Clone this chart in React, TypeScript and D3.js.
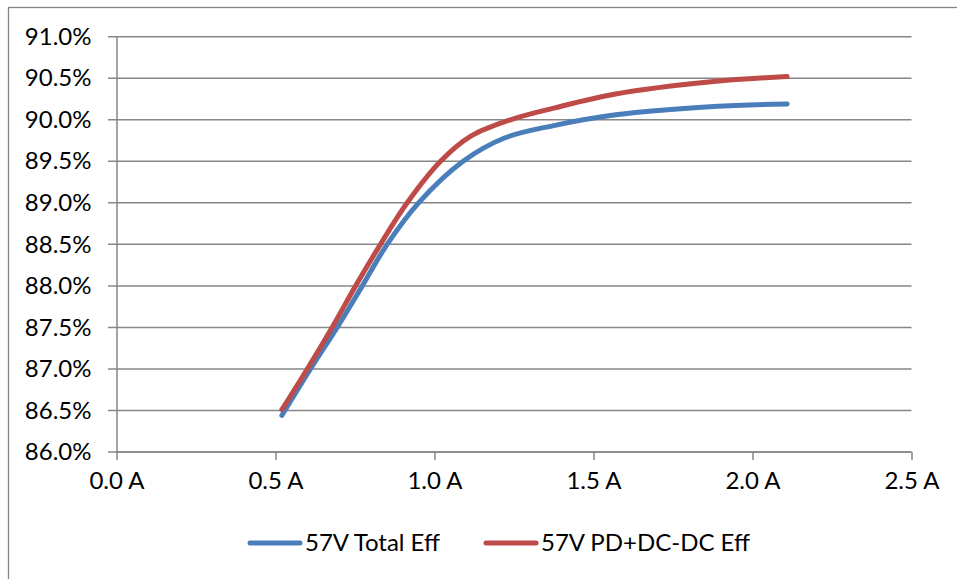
import React, { useEffect, useRef } from "react";
import * as d3 from "d3";

const totalCurrents = [0.52, 0.61, 0.694, 0.773, 0.851, 0.95, 1.09, 1.22, 1.375, 1.57, 1.877, 2.109];
const totalEff = [86.44, 87.0, 87.5, 88.0, 88.5, 89.0, 89.5, 89.78, 89.93, 90.06, 90.16, 90.19];
const pdCurrents = [0.52, 0.6, 0.678, 0.752, 0.83, 0.914, 1.019, 1.113, 1.239, 1.375, 1.569, 1.878, 2.109];
const pdDcDcEff = [86.51, 87.0, 87.5, 88.0, 88.5, 89.0, 89.5, 89.8, 90.0, 90.14, 90.31, 90.46, 90.52];
const seriesNames = ["57V Total Eff", "57V PD+DC-DC Eff"];
const seriesColors = ["#4a7ebb", "#be4b48"];
const xTicks = [0, 0.5, 1, 1.5, 2, 2.5];
const yTicks = [86, 86.5, 87, 87.5, 88, 88.5, 89, 89.5, 90, 90.5, 91];

export default function App() {
	const svgRef = useRef<SVGSVGElement>(null);

	useEffect(() => {
		if (!svgRef.current) return;
		const svg = d3.select(svgRef.current);
		svg.selectAll("*").remove();

		const gridColor = "#868686";
		const font = "Lato, 'Open Sans', sans-serif";

		// outer chart frame, runs off the picture on the right and bottom
		svg
			.append("rect")
			.attr("x", 8.5)
			.attr("y", 7.5)
			.attr("width", 1000)
			.attr("height", 1000)
			.attr("fill", "white")
			.attr("stroke", gridColor)
			.attr("stroke-width", 1.3);

		const x = d3.scaleLinear().domain([0, 2.5]).range([116.5, 911.5]);
		const y = d3.scaleLinear().domain([86, 91]).range([452, 36.7]);

		// gridlines
		svg
			.append("g")
			.selectAll("line")
			.data(yTicks)
			.join("line")
			.attr("x1", 108)
			.attr("x2", x(2.5))
			.attr("y1", (d) => y(d))
			.attr("y2", (d) => y(d))
			.attr("stroke", gridColor)
			.attr("stroke-width", 1.5);

		// y axis
		const yAxis = d3
			.axisLeft(y)
			.tickValues(yTicks)
			.tickSize(0)
			.tickPadding(25)
			.tickFormat((d) => `${(d as number).toFixed(1)}%`);
		const yg = svg
			.append("g")
			.attr("transform", `translate(${x(0)},0)`)
			.call(yAxis);
		yg.select(".domain").attr("stroke", gridColor).attr("stroke-width", 1.5);
		yg.selectAll("text")
			.attr("font-family", font)
			.attr("font-size", 24)
			.attr("fill", "#000");

		// x axis
		const xAxis = d3
			.axisBottom(x)
			.tickValues(xTicks)
			.tickSize(8)
			.tickPadding(12)
			.tickFormat((d) => `${(d as number).toFixed(1)} A`);
		const xg = svg
			.append("g")
			.attr("transform", `translate(0,${y(86)})`)
			.call(xAxis);
		xg.select(".domain")
			.attr("stroke", gridColor)
			.attr("stroke-width", 1.5)
			.attr("d", `M${x(0)},0H${x(2.5)}`);
		xg.selectAll("line").attr("stroke", gridColor).attr("stroke-width", 1.5);
		xg.selectAll("text")
			.attr("font-family", font)
			.attr("font-size", 24)
			.attr("fill", "#000");

		const series = [
			{ xs: totalCurrents, ys: totalEff },
			{ xs: pdCurrents, ys: pdDcDcEff },
		];

		series.forEach((s, i) => {
			const line = d3
				.line<number>()
				.x((_, j) => x(s.xs[j]))
				.y((d) => y(d))
				.curve(d3.curveCatmullRom.alpha(0.5));
			svg
				.append("path")
				.datum(s.ys)
				.attr("fill", "none")
				.attr("stroke", seriesColors[i])
				.attr("stroke-width", 5)
				.attr("stroke-linecap", "round")
				.attr("d", line);
		});

		// legend
		const legendX = [250, 486];
		const legend = svg
			.append("g")
			.selectAll("g")
			.data(seriesNames)
			.join("g")
			.attr("transform", (_, i) => `translate(${legendX[i]},543)`);
		legend
			.append("line")
			.attr("x1", 0)
			.attr("x2", 50)
			.attr("stroke", (_, i) => seriesColors[i])
			.attr("stroke-width", 5)
			.attr("stroke-linecap", "round");
		legend
			.append("text")
			.attr("x", 55)
			.attr("dy", "0.35em")
			.attr("font-family", font)
			.attr("font-size", 24)
			.attr("fill", "#000")
			.text((d) => d);
	}, []);

	return (
		<div style={{ position: "absolute", left: 0, top: 0 }}>
			<svg ref={svgRef} width={957} height={579} style={{ display: "block" }} />
		</div>
	);
}
